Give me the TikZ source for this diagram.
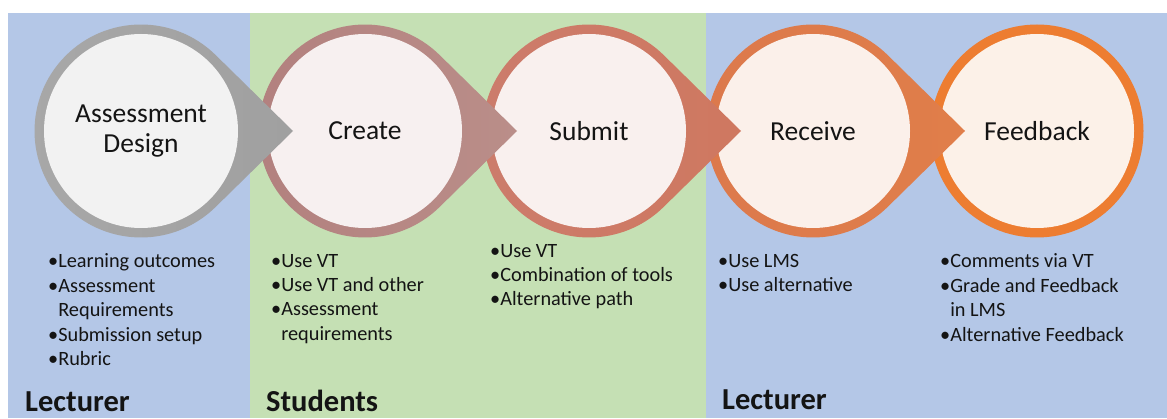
\documentclass[tikz,border=0pt]{standalone}
\usepackage{fontspec}
\setmainfont{Carlito}
\definecolor{cBlue}{RGB}{180,199,231}
\definecolor{cGreen}{RGB}{197,224,180}
\definecolor{cInk}{RGB}{20,20,20}
% ring and arrow colours, stage by stage
\definecolor{cRingA}{RGB}{168,168,168}
\definecolor{cTipA}{RGB}{160,160,160}
\definecolor{cFillA}{RGB}{242,242,242}
\definecolor{cRingB}{RGB}{178,128,126}
\definecolor{cTipB}{RGB}{186,142,137}
\definecolor{cFillB}{RGB}{247,240,240}
\definecolor{cRingC}{RGB}{204,124,108}
\definecolor{cTipC}{RGB}{207,120,96}
\definecolor{cFillC}{RGB}{249,240,238}
\definecolor{cRingD}{RGB}{220,121,76}
\definecolor{cTipD}{RGB}{224,126,74}
\definecolor{cFillD}{RGB}{251,240,234}
\definecolor{cRingE}{RGB}{237,125,49}
\definecolor{cFillE}{RGB}{252,241,232}

\begin{document}
\begin{tikzpicture}[
  x=1pt, y=1pt, color=cInk,
  disc/.style    ={circle, minimum size=194pt, inner sep=0pt,
                   font=\fontsize{27.5}{30.5}\selectfont, align=center},
  bullets/.style ={font=\fontsize{20.3}{24.4}\selectfont, align=left,
                   anchor=north west, inner sep=0pt},
  who/.style     ={font=\fontsize{30.5}{36}\selectfont\bfseries,
                   anchor=base west, inner sep=0pt},
]

\def\R{106.5}\def\Cy{287}\def\Tip{152}\def\Th{45.5}
\newcommand{\gap}{\phantom{\textbullet}}

\useasboundingbox (0,0) rectangle (1167,418);

% ----- lecturer / students / lecturer bands -----------------------------
\fill[cBlue]  (8,0)   rectangle (250,405);
\fill[cGreen] (250,0) rectangle (706,405);
\fill[cBlue]  (706,0) rectangle (1167,405);

% ----- stages: right to left, so each tip lies over the next ring --------
\fill[cRingE] (1037,\Cy) circle[radius=\R];
\node[disc,fill=cFillE] (fb) at (1037,\Cy) {Feedback};

\foreach \cx/\ring/\tipc/\inner/\nm/\txt in
  {813/cRingD/cTipD/cFillD/rc/{Receive},
   589/cRingC/cTipC/cFillC/sb/{Submit},
   365/cRingB/cTipB/cFillB/cr/{Create},
   141/cRingA/cTipA/cFillA/ad/{Assessment\\Design}}{
  \shade[left color=\ring, right color=\tipc]
    (\cx,\Cy) ++(\Th:\R) arc[start angle=\Th, end angle=360-\Th, radius=\R]
    -- (\cx+\Tip,\Cy) -- cycle;
  \node[disc,fill=\inner] (\nm) at (\cx,\Cy) {\txt};
}

% ----- what happens at each stage ---------------------------------------
\node[bullets] (adlist) at (48,164.2)
  {\textbullet Learning outcomes\\
   \textbullet Assessment\\
   \gap Requirements\\
   \textbullet Submission setup\\
   \textbullet Rubric};
\node[bullets] (crlist) at (271,164.2)
  {\textbullet Use VT\\
   \textbullet Use VT and other\\
   \textbullet Assessment\\
   \gap requirements};
\node[bullets] (sblist) at (490,174.2)
  {\textbullet Use VT\\
   \textbullet Combination of tools\\
   \textbullet Alternative path};
\node[bullets] (rclist) at (718,164.2)
  {\textbullet Use LMS\\
   \textbullet Use alternative};
\node[bullets] (fblist) at (940,164.2)
  {\textbullet Comments via VT\\
   \textbullet Grade and Feedback\\
   \gap in LMS\\
   \textbullet Alternative Feedback};

% ----- who does it ------------------------------------------------------
\node[who] (lect1) at (25,6.3)  {Lecturer};
\node[who] (stud)  at (266,6.3) {Students};
\node[who] (lect2) at (722,8.5) {Lecturer};

\end{tikzpicture}
\end{document}
